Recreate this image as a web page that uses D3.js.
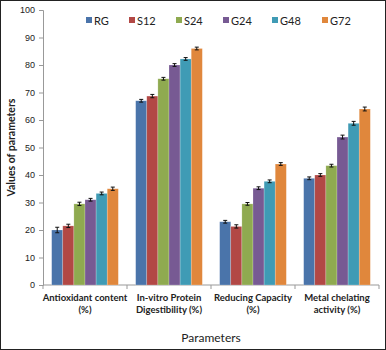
<!DOCTYPE html>
<html>
<head>
<meta charset="utf-8">
<script src="https://cdnjs.cloudflare.com/ajax/libs/d3/7.8.5/d3.min.js"></script>
<style>
  body { margin: 0; background: #fff; }
  svg { display: block; font-family: Lato, "Open Sans", sans-serif; }
</style>
</head>
<body>
<div id="chart"></div>
<script>
// Data
const categories = [
  ["Antioxidant content", "(%)"],
  ["In-vitro Protein", "Digestibility (%)"],
  ["Reducing Capacity", "(%)"],
  ["Metal chelating", "activity (%)"]
];
const seriesNames = ["RG", "S12", "S24", "G24", "G48", "G72"];
const seriesColors = ["#4a74aa", "#b24845", "#8faa50", "#775a93", "#3f9bb5", "#e0873c"];
const values = [
  [20.0, 67.0, 23.0, 38.8],   // RG
  [21.5, 68.7, 21.3, 40.0],   // S12
  [29.5, 75.0, 29.5, 43.4],   // S24
  [31.0, 80.0, 35.2, 53.8],   // G24
  [33.3, 82.2, 37.7, 58.8],   // G48
  [35.0, 86.0, 44.0, 64.0]    // G72
];
const errors = [
  [1.0, 0.5, 0.5, 0.5],
  [0.6, 0.6, 0.6, 0.5],
  [0.6, 0.5, 0.5, 0.5],
  [0.5, 0.5, 0.5, 0.7],
  [0.5, 0.5, 0.5, 0.7],
  [0.6, 0.5, 0.5, 0.7]
];
const yTicks = [0, 10, 20, 30, 40, 50, 60, 70, 80, 90, 100];

const W = 386, H = 350;
const plot = { left: 43, right: 379, top: 10, bottom: 285 };

const svg = d3.select("#chart").append("svg")
  .attr("width", W).attr("height", H);

// frame
svg.append("rect")
  .attr("x", 0.5).attr("y", 0.5)
  .attr("width", W - 1).attr("height", H - 1)
  .attr("fill", "#fff").attr("stroke", "#222").attr("stroke-width", 1);

const x0 = d3.scaleBand()
  .domain(d3.range(categories.length))
  .range([plot.left, plot.right])
  .paddingInner(0).paddingOuter(0);

const x1 = d3.scaleBand()
  .domain(d3.range(seriesNames.length))
  .range([0, x0.bandwidth()])
  .paddingInner(0)
  .paddingOuter(0.78);

const y = d3.scaleLinear().domain([0, 100]).range([plot.bottom, plot.top]);

// Y axis
const yAxis = svg.append("g")
  .attr("transform", `translate(${plot.left},0)`)
  .call(d3.axisLeft(y).tickValues(yTicks).tickSize(4).tickPadding(4));
yAxis.select(".domain").attr("stroke", "#999");
yAxis.selectAll(".tick line").attr("stroke", "#999");
yAxis.selectAll(".tick text").attr("font-size", 9).attr("fill", "#222");

// X axis
const xAxis = svg.append("g")
  .attr("transform", `translate(0,${plot.bottom})`);
xAxis.append("line")
  .attr("x1", plot.left).attr("x2", plot.right)
  .attr("stroke", "#999");
xAxis.selectAll("line.tk")
  .data(d3.range(categories.length + 1))
  .join("line")
  .attr("class", "tk")
  .attr("x1", i => i < categories.length ? x0(i) : plot.right)
  .attr("x2", i => i < categories.length ? x0(i) : plot.right)
  .attr("y1", 0).attr("y2", 4)
  .attr("stroke", "#999");

// Category labels
categories.forEach((lines, i) => {
  const t = svg.append("text")
    .attr("x", x0(i) + x0.bandwidth() / 2)
    .attr("y", 301)
    .attr("text-anchor", "middle")
    .attr("font-size", 9.5)
    .attr("font-weight", "bold")
    .attr("fill", "#222");
  lines.forEach((l, k) => {
    t.append("tspan")
      .attr("x", x0(i) + x0.bandwidth() / 2)
      .attr("dy", k === 0 ? 0 : 12)
      .text(l);
  });
});

// Bars
seriesNames.forEach((name, s) => {
  const g = svg.append("g");
  g.selectAll("rect")
    .data(values[s])
    .join("rect")
    .attr("x", (d, i) => x0(i) + x1(s))
    .attr("y", d => y(d))
    .attr("width", x1.bandwidth())
    .attr("height", d => y(0) - y(d))
    .attr("fill", seriesColors[s])
    .attr("stroke", "rgba(255,255,255,0.35)")
    .attr("stroke-width", 0.6);

  // error bars
  const eb = svg.append("g").attr("stroke", "#111").attr("stroke-width", 1);
  values[s].forEach((v, i) => {
    const cx = x0(i) + x1(s) + x1.bandwidth() / 2;
    const e = errors[s][i];
    eb.append("line").attr("x1", cx).attr("x2", cx).attr("y1", y(v + e)).attr("y2", y(v - e));
    eb.append("line").attr("x1", cx - 2).attr("x2", cx + 2).attr("y1", y(v + e)).attr("y2", y(v + e));
    eb.append("line").attr("x1", cx - 2).attr("x2", cx + 2).attr("y1", y(v - e)).attr("y2", y(v - e));
  });
});

// Legend
const legendX = [86, 129, 176, 223, 272, 322];
seriesNames.forEach((name, s) => {
  svg.append("rect")
    .attr("x", legendX[s]).attr("y", 17)
    .attr("width", 6).attr("height", 6)
    .attr("fill", seriesColors[s]);
  svg.append("text")
    .attr("x", legendX[s] + 8).attr("y", 24.5)
    .attr("font-size", 11)
    .attr("fill", "#222")
    .text(name);
});

// Axis titles
svg.append("text")
  .attr("transform", `translate(15,${(plot.top + plot.bottom) / 2}) rotate(-90)`)
  .attr("text-anchor", "middle")
  .attr("font-size", 10.5)
  .attr("font-weight", "bold")
  .attr("fill", "#222")
  .text("Values of parameters");

svg.append("text")
  .attr("x", 211).attr("y", 342)
  .attr("text-anchor", "middle")
  .attr("font-size", 12)
  .attr("fill", "#222")
  .text("Parameters");
</script>
</body>
</html>
